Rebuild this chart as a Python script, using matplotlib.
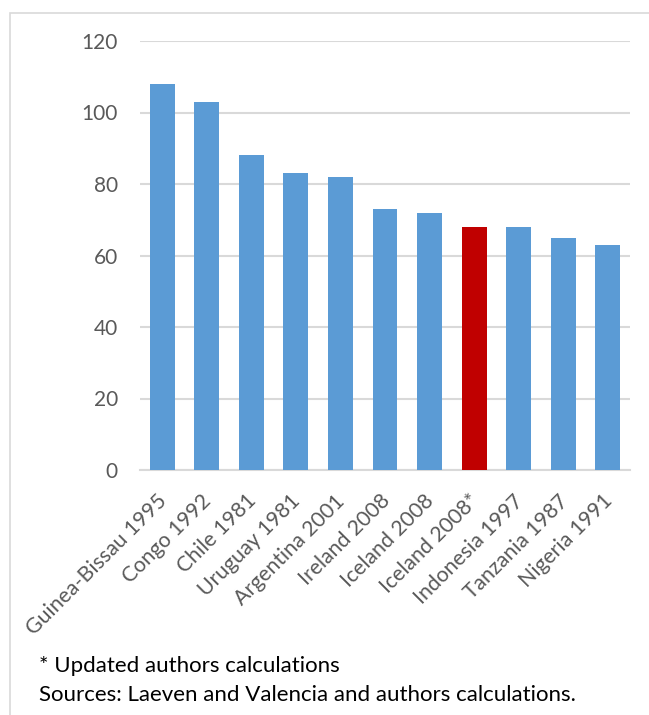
import matplotlib.pyplot as plt
import matplotlib.transforms as mtransforms
from matplotlib.patches import Rectangle

plt.rcParams['font.family'] = ['Lato', 'DejaVu Sans']

crises = ['Guinea-Bissau 1995', 'Congo 1992', 'Chile 1981', 'Uruguay 1981',
          'Argentina 2001', 'Ireland 2008', 'Iceland 2008', 'Iceland 2008*',
          'Indonesia 1997', 'Tanzania 1987', 'Nigeria 1991']
values = [108, 103, 88, 83, 82, 73, 72, 68, 68, 65, 63]
highlight = 'Iceland 2008*'
y_ticks = [0, 20, 40, 60, 80, 100, 120]

text_color = '#595959'
grid_color = '#D9D9D9'

fig = plt.figure(figsize=(6.49, 7.15), dpi=100)
ax = fig.add_axes([140 / 649, 1 - 470 / 715, 490 / 649, 429 / 715])

colors = ['#C00000' if c == highlight else '#5B9BD5' for c in crises]
ax.bar(range(len(crises)), values, width=0.56, color=colors, zorder=3)

ax.set_xlim(-0.5, len(crises) - 0.5)
ax.set_ylim(0, 120)
ax.set_yticks(y_ticks)
ax.yaxis.grid(True, color=grid_color, linewidth=1.5, zorder=0)
ax.set_axisbelow(True)

for s in ['top', 'right', 'left']:
    ax.spines[s].set_visible(False)
ax.spines['bottom'].set_color(grid_color)
ax.spines['bottom'].set_linewidth(1.5)

ax.tick_params(axis='y', length=0, pad=16, labelsize=15, labelcolor=text_color)
ax.tick_params(axis='x', length=0, pad=15, labelsize=15.3, labelcolor=text_color)
ax.set_xticks(range(len(crises)))
ax.set_xticklabels(crises, rotation=45, ha='right', va='top', rotation_mode='anchor')

# nudge the slanted labels a little to the left
shift = mtransforms.ScaledTranslation(-4 / 72, 0, fig.dpi_scale_trans)
for lab in ax.get_xticklabels():
    lab.set_transform(lab.get_transform() + shift)

fig.text(39 / 649, 1 - 666 / 715, '* Updated authors calculations',
         fontsize=16, color='black', va='center')
fig.text(39 / 649, 1 - 695 / 715, 'Sources: Laeven and Valencia and authors calculations.',
         fontsize=16, color='black', va='center')

# outer frame of the chart area
fig.patches.append(Rectangle((9.5 / 649, -0.1), 1.1, 1 - 13.5 / 715 + 0.1,
                             transform=fig.transFigure, fill=False,
                             edgecolor=grid_color, linewidth=1.2))

fig.savefig('out.png', dpi=100)
